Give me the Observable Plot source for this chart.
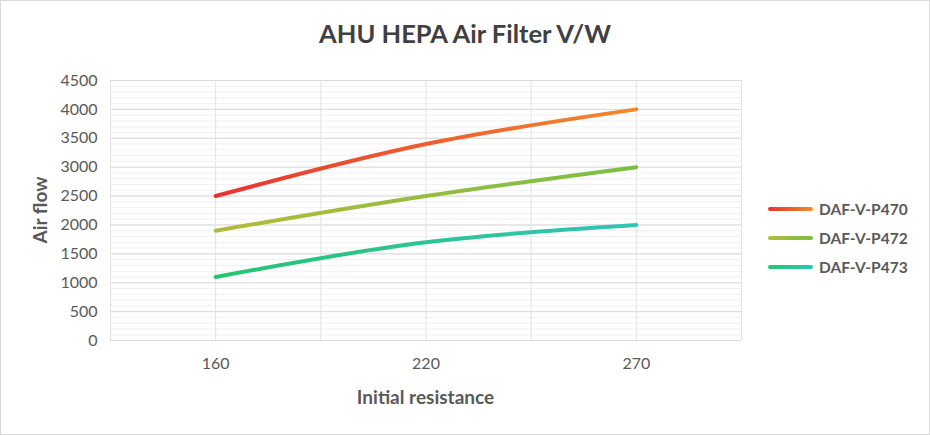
<!DOCTYPE html>
<html>
<head>
<meta charset="utf-8">
<script src="https://cdn.jsdelivr.net/npm/d3@7"></script>
<script src="https://cdn.jsdelivr.net/npm/@observablehq/plot@0.6"></script>
<style>
  html, body { margin: 0; padding: 0; background: #fff; }
  #wrap { position: relative; width: 930px; height: 435px; overflow: hidden; font-family: Lato, "Open Sans", sans-serif; }
  #wrap svg { position: absolute; left: 0; top: 0; }
  #border { position: absolute; left: 0; top: 0; width: 930px; height: 435px; box-sizing: border-box; border: 1.5px solid #d9d9d9; pointer-events: none; }
  #title { position: absolute; left: 0; width: 930px; top: 18px; line-height: 31px; text-align: center; font-weight: 700; font-size: 25.5px; color: #404040; }
  #xlabel { position: absolute; left: 110px; width: 631px; top: 385px; line-height: 24px; text-align: center; font-weight: 700; font-size: 19px; color: #595959; }
  #ylabel { position: absolute; left: 40px; top: 210px; line-height: 24px; transform: translate(-50%, -50%) rotate(-90deg); white-space: nowrap; font-weight: 700; font-size: 19px; color: #595959; }
  #legend { position: absolute; left: 768px; top: 194px; }
  .li { display: flex; align-items: center; height: 29px; }
  .sw { width: 45px; height: 4px; border-radius: 2px; margin-right: 6px; }
  .lt { font-weight: 700; font-size: 15.5px; color: #595959; }
</style>
</head>
<body>
<div id="wrap">
  <div id="title">AHU HEPA Air Filter V/W</div>
  <div id="ylabel">Air flow</div>
  <div id="xlabel">Initial resistance</div>
  <div id="legend"></div>
  <div id="border"></div>
</div>
<script>
const xLabels = ["160", "220", "270"];
const yTicks = [0, 500, 1000, 1500, 2000, 2500, 3000, 3500, 4000, 4500];
const seriesNames = ["DAF-V-P470", "DAF-V-P472", "DAF-V-P473"];
const p470 = [2500, 3400, 4000];
const p472 = [1900, 2500, 3000];
const p473 = [1100, 1700, 2000];
const seriesValues = [p470, p472, p473];
const gradColors = [["#ec3131", "#f28a2c"], ["#b3bb3b", "#78bf44"], ["#27c46f", "#30c5b8"]];

const data = seriesNames.map((s, si) => seriesValues[si].map((v, i) => ({series: s, i, y: v})));

const minorTicks = d3.range(0, 4501, 100);
const vGrid = d3.range(-0.5, 2.51, 0.5);

const chart = Plot.plot({
  width: 930, height: 435,
  marginLeft: 110, marginRight: 189, marginTop: 80, marginBottom: 95,
  x: {type: "linear", domain: [-0.5, 2.5]},
  y: {domain: [0, 4500]},
  style: {fontFamily: "Lato, 'Open Sans', sans-serif", fontSize: "16px", color: "#595959", background: "transparent"},
  marks: [
    Plot.gridY(minorTicks, {stroke: "#f0f0f0", strokeOpacity: 1}),
    Plot.gridY(yTicks, {stroke: "#d9d9d9", strokeOpacity: 1}),
    Plot.gridX(vGrid, {stroke: "#e2e2e2", strokeOpacity: 1}),
    Plot.ruleY([0], {stroke: "#d9d9d9"}),
    Plot.axisY(yTicks, {tickSize: 0, tickPadding: 13, label: null, fontSize: 16, tickFormat: d => String(d)}),
    Plot.axisX([0, 1, 2], {tickSize: 0, tickPadding: 17, tickFormat: i => xLabels[i], label: null, fontSize: 16}),
    ...data.map((d, si) => Plot.line(d, {x: "i", y: "y", stroke: `url(#grad${si})`, strokeWidth: 4, curve: "catmull-rom", strokeLinecap: "round"}))
  ]
});

const svg = d3.select(chart);
const defs = svg.insert("defs", ":first-child");
gradColors.forEach((c, si) => {
  const g = defs.append("linearGradient").attr("id", `grad${si}`).attr("x1", "0").attr("x2", "1").attr("y1", "0").attr("y2", "0");
  g.append("stop").attr("offset", "0%").attr("stop-color", c[0]);
  g.append("stop").attr("offset", "100%").attr("stop-color", c[1]);
});

const wrap = document.getElementById("wrap");
wrap.insertBefore(chart, wrap.firstChild);

const legend = d3.select("#legend");
seriesNames.forEach((s, si) => {
  const row = legend.append("div").attr("class", "li");
  row.append("div").attr("class", "sw").style("background", `linear-gradient(to right, ${gradColors[si][0]}, ${gradColors[si][1]})`);
  row.append("div").attr("class", "lt").text(s);
});
</script>
</body>
</html>
